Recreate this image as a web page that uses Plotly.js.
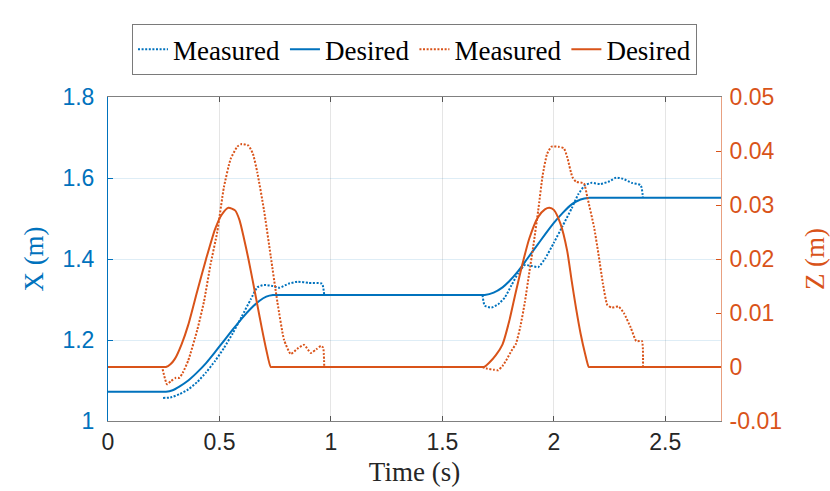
<!DOCTYPE html>
<html>
<head>
<meta charset="utf-8">
<script src="https://cdn.plot.ly/plotly-3.0.1.min.js"></script>
<style>html,body{margin:0;padding:0;background:#fff;}#chart{width:830px;height:491px;}</style>
</head>
<body>
<div id="chart"></div>
<script>
// ---- Data ----
const xDesT = [0,0.25,0.26,0.29,0.32,0.36,0.40,0.44,0.48,0.52,0.56,0.60,0.64,0.68,0.71,0.74,0.75,1.68,1.69,1.73,1.77,1.80,1.84,1.88,1.92,1.96,2.00,2.04,2.08,2.12,2.16,2.17,2.75];
const xDesV = [1.072,1.072,1.072,1.076,1.085,1.100,1.120,1.143,1.170,1.198,1.226,1.253,1.277,1.297,1.307,1.311,1.311,1.311,1.311,1.317,1.330,1.345,1.370,1.400,1.430,1.460,1.489,1.514,1.535,1.547,1.551,1.551,1.551];

const xMeasT = [0.247,0.28,0.32,0.36,0.40,0.44,0.48,0.52,0.56,0.60,0.64,0.67,0.70,0.74,0.77,0.81,0.85,0.90,0.96,0.97,null,
                1.68,1.69,1.72,1.75,1.78,1.81,1.84,1.87,1.90,1.93,1.96,2.00,2.04,2.08,2.11,2.14,2.17,2.21,2.25,2.28,2.31,2.35,2.39,2.40];
const xMeasV = [1.057,1.058,1.066,1.078,1.096,1.120,1.148,1.180,1.217,1.258,1.300,1.330,1.336,1.333,1.329,1.339,1.344,1.341,1.339,1.311,null,
                1.311,1.285,1.280,1.288,1.305,1.335,1.365,1.385,1.383,1.380,1.400,1.440,1.482,1.525,1.560,1.582,1.588,1.585,1.592,1.601,1.598,1.588,1.582,1.551];

const zDesT = [0,0.25,0.26,0.28,0.30,0.33,0.36,0.40,0.44,0.48,0.51,0.54,0.57,0.59,0.61,0.63,0.65,0.67,0.69,0.71,0.73,0.74,
               1.675,1.686,1.71,1.74,1.77,1.80,1.83,1.86,1.89,1.93,1.96,1.98,2.00,2.03,2.06,2.08,2.10,2.12,2.14,2.157,2.167,2.75];
const zDesV = [0,0,0,0.0005,0.0015,0.0042,0.0078,0.0140,0.0200,0.0255,0.0282,0.0295,0.0290,0.0272,0.0238,0.0200,0.0158,0.0115,0.0072,0.0032,0,0,
               0,0,0.0008,0.0022,0.0042,0.0085,0.0140,0.0192,0.0238,0.0278,0.0292,0.0295,0.0291,0.0265,0.0215,0.0160,0.0108,0.0062,0.0025,0,0,0];

const zMeasT = [0.245,0.265,0.283,0.305,0.32,0.335,0.36,0.40,0.43,0.46,0.49,0.52,0.55,0.58,0.60,0.63,0.65,0.67,0.70,0.73,0.76,0.79,0.82,0.85,0.88,0.91,0.935,0.955,0.965,0.97,null,
                1.68,1.70,1.73,1.75,1.77,1.79,1.81,1.83,1.85,1.87,1.89,1.91,1.93,1.95,1.97,1.99,2.02,2.045,2.06,2.083,2.10,2.135,2.15,2.18,2.20,2.22,2.24,2.26,2.29,2.314,2.345,2.37,2.395,2.40];
const zMeasV = [-0.0004,-0.0032,-0.0026,-0.0020,-0.0020,-0.0011,0.0012,0.0068,0.0120,0.0190,0.0250,0.0333,0.0385,0.0408,0.0413,0.0410,0.0395,0.0360,0.0290,0.0205,0.0120,0.0050,0.0024,0.0034,0.0041,0.0026,0.0033,0.0039,0.0036,0,null,
                0,-0.0003,-0.0005,-0.0006,0.0002,0.0015,0.0030,0.0043,0.0075,0.0120,0.0175,0.0230,0.0290,0.0355,0.0395,0.0408,0.0408,0.0405,0.0389,0.0352,0.0343,0.0340,0.0315,0.0260,0.0210,0.0155,0.0115,0.0110,0.0112,0.0100,0.0073,0.0048,0.0048,0];

const xTickVals = [0,0.5,1,1.5,2,2.5];
const xTickText = ['0','0.5','1','1.5','2','2.5'];
const yTickVals = [1,1.2,1.4,1.6,1.8];
const yTickText = ['1','1.2','1.4','1.6','1.8'];
const y2TickVals = [-0.01,0,0.01,0.02,0.03,0.04,0.05];
const y2TickText = ['-0.01','0','0.01','0.02','0.03','0.04','0.05'];
const seriesNames = ['Measured','Desired','Measured','Desired'];

// ---- Styling ----
const BLUE = '#0072BD', ORANGE = '#D95319';
const tickFont = {family: 'Liberation Sans, Arial, sans-serif', size: 23};
const serif = 'Liberation Serif, Times New Roman, serif';
const DOT = '2px,1.6px';

const traces = [
  {x: xMeasT, y: xMeasV, name: seriesNames[0], mode: 'lines', line: {color: BLUE, width: 2, dash: DOT, shape: 'spline', smoothing: 0.5}, connectgaps: false, yaxis: 'y'},
  {x: xDesT, y: xDesV, name: seriesNames[1], mode: 'lines', line: {color: BLUE, width: 2, shape: 'spline', smoothing: 0.6}, yaxis: 'y'},
  {x: zMeasT, y: zMeasV, name: seriesNames[2], mode: 'lines', line: {color: ORANGE, width: 2, dash: DOT, shape: 'spline', smoothing: 0.5}, connectgaps: false, yaxis: 'y2'},
  {x: zDesT, y: zDesV, name: seriesNames[3], mode: 'lines', line: {color: ORANGE, width: 2, shape: 'spline', smoothing: 0.6}, yaxis: 'y2'}
];

const layout = {
  width: 830, height: 491,
  margin: {l: 108, r: 109, t: 97, b: 70, pad: 0},
  paper_bgcolor: '#fff', plot_bgcolor: '#fff',
  showlegend: true,
  legend: {
    orientation: 'h', x: 0.5, xanchor: 'center', y: 1.146, yanchor: 'middle', yref: 'paper',
    borderwidth: 1, bordercolor: '#7a7a7a', bgcolor: '#fff',
    font: {family: serif, size: 27, color: '#000'},
    itemwidth: 30, tracegroupgap: 0
  },
  xaxis: {
    range: [0, 2.75], tickmode: 'array', tickvals: xTickVals, ticktext: xTickText,
    ticks: 'inside', ticklen: 5, tickcolor: '#555', tickwidth: 1,
    showline: true, linecolor: '#808080', linewidth: 1, mirror: 'ticks',
    showgrid: true, gridcolor: 'rgba(0,0,0,0.10)', zeroline: false,
    tickfont: Object.assign({color: '#262626'}, tickFont),
    title: {text: 'Time (s)', font: {family: serif, size: 27, color: '#262626'}, standoff: 8}
  },
  yaxis: {
    range: [1, 1.8], tickmode: 'array', tickvals: yTickVals, ticktext: yTickText,
    ticks: 'inside', ticklen: 5, tickcolor: BLUE, tickwidth: 1, ticklabelstandoff: 8,
    showline: true, linecolor: BLUE, linewidth: 1,
    showgrid: true, gridcolor: 'rgba(0,114,189,0.13)', zeroline: false,
    tickfont: Object.assign({color: BLUE}, tickFont),
    title: {text: 'X (m)', font: {family: serif, size: 27, color: BLUE}, standoff: 10}
  },
  yaxis2: {
    range: [-0.01, 0.05], overlaying: 'y', side: 'right', tickmode: 'array', tickvals: y2TickVals, ticktext: y2TickText,
    ticks: 'inside', ticklen: 5, tickcolor: ORANGE, tickwidth: 1, ticklabelstandoff: 3,
    showline: true, linecolor: '#E8A080', linewidth: 1,
    showgrid: false, zeroline: false,
    tickfont: Object.assign({color: ORANGE}, tickFont),
    title: {text: 'Z (m)', font: {family: serif, size: 27, color: ORANGE}, standoff: 26}
  }
};

Plotly.newPlot('chart', traces, layout, {displayModeBar: false, staticPlot: true});
</script>
</body>
</html>
